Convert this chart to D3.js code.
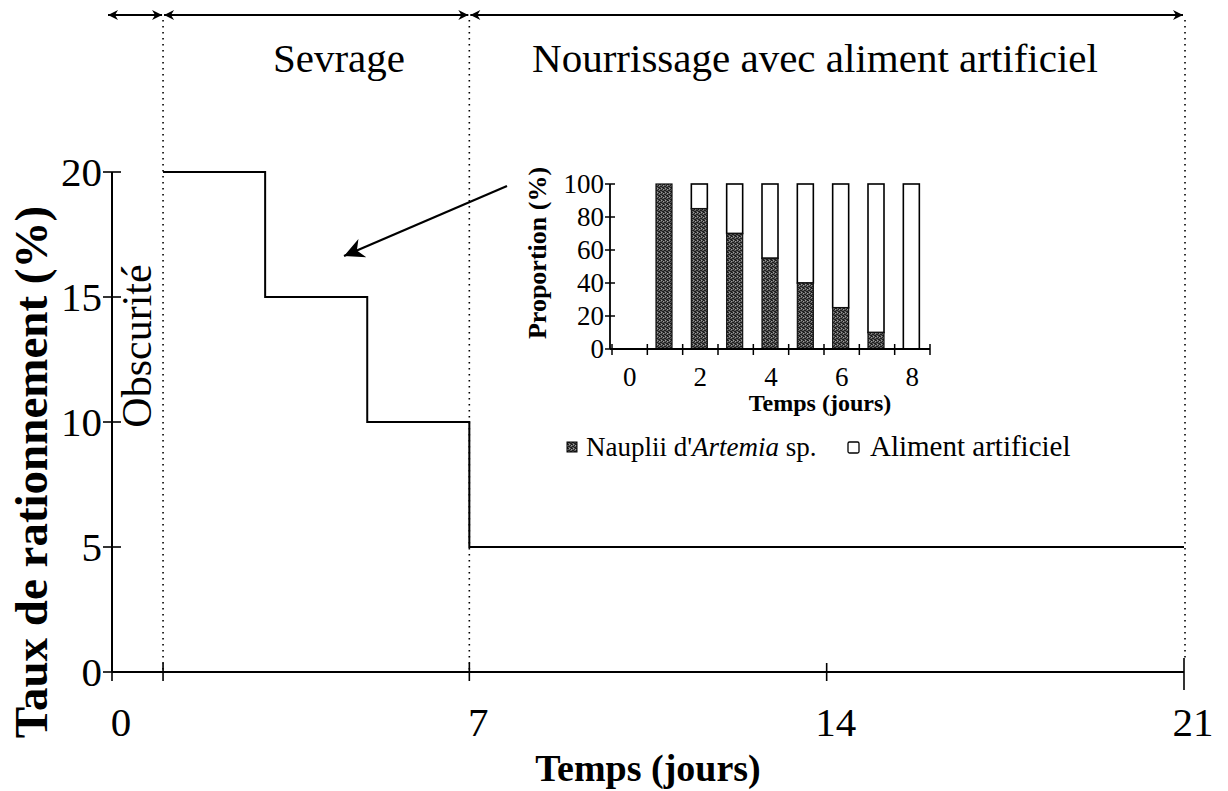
<!DOCTYPE html>
<html>
<head>
<meta charset="utf-8">
<script src="https://cdn.jsdelivr.net/npm/d3@7"></script>
<style>
  html, body { margin: 0; padding: 0; background: #fff; }
  svg { display: block; font-family: "Liberation Serif", "Times New Roman", serif; }
</style>
</head>
<body>
<svg id="chart" width="1228" height="791"></svg>
<script>
// ---- Data ----
// Main chart: feeding rate (%) step function over time (days)
const stepDays  = [1, 3, 5, 7, 21];
const stepRates = [20, 15, 10, 5, 5];
const mainXTicks = [0, 7, 14, 21];
const mainXMinorTicks = [1];
const mainYTicks = [0, 5, 10, 15, 20];
// Periods (top arrows)
const periodStarts = [0, 1, 7];
const periodEnds   = [1, 7, 21];
const periodLabels = ["Obscurité", "Sevrage", "Nourrissage avec aliment artificiel"];
const dividerDays  = [1, 7, 21];

// Inset: proportion of food types per day of weaning
const insetDays     = [0, 1, 2, 3, 4, 5, 6, 7, 8];
const insetNauplii  = [null, 100, 85, 70, 55, 40, 25, 10, 0];
const insetArtif    = [null, 0, 15, 30, 45, 60, 75, 90, 100];
const insetXLabels  = [0, 2, 4, 6, 8];
const insetYTicks   = [0, 20, 40, 60, 80, 100];

// ---- Setup ----
const svg = d3.select("#chart");
const defs = svg.append("defs");

// stipple pattern for nauplii bars
const pat = defs.append("pattern").attr("id", "stipple")
  .attr("patternUnits", "userSpaceOnUse").attr("width", 4).attr("height", 4);
pat.append("rect").attr("width", 4).attr("height", 4).attr("fill", "#5c5c5c");
[[0,0],[2,1],[1,2],[3,3],[2,3],[0,2],[3,0]].forEach(([a,b]) =>
  pat.append("rect").attr("x", a).attr("y", b).attr("width", 1).attr("height", 1).attr("fill", "#1e1e1e"));
[[1,0],[3,1]].forEach(([a,b]) =>
  pat.append("rect").attr("x", a).attr("y", b).attr("width", 1).attr("height", 1).attr("fill", "#9a9a9a"));

// arrow markers
function marker(id, orient) {
  defs.append("marker").attr("id", id)
    .attr("viewBox", "0 0 10 10").attr("refX", 10).attr("refY", 5)
    .attr("markerWidth", 15).attr("markerHeight", 10).attr("markerUnits", "userSpaceOnUse")
    .attr("orient", orient)
    .append("path").attr("d", "M0,0 L10,5 L0,10 L3,5 Z").attr("fill", "#000");
}
marker("arrEnd", "auto");
marker("arrStart", "auto-start-reverse");
defs.append("marker").attr("id", "bigArrow")
  .attr("viewBox", "0 0 10 10").attr("refX", 10).attr("refY", 5)
  .attr("markerWidth", 30).attr("markerHeight", 20).attr("markerUnits", "userSpaceOnUse")
  .attr("orient", "auto")
  .append("path").attr("d", "M0,0 L10,5 L0,10 L3,5 Z").attr("fill", "#000");

// ---- Main scales ----
const x = d3.scaleLinear().domain([0, 21]).range([112, 1184]);
const y = d3.scaleLinear().domain([0, 20]).range([672, 172]);

// dotted dividers
svg.append("g").selectAll("line").data(dividerDays).join("line")
  .attr("x1", d => x(d) + (d === 21 ? 1 : 0)).attr("x2", d => x(d) + (d === 21 ? 1 : 0))
  .attr("y1", 20).attr("y2", d => d === 21 ? 662 : 672)
  .attr("stroke", "#000").attr("stroke-width", 1.6)
  .attr("stroke-dasharray", "1.6,4.4");

// top period arrows
const periods = periodStarts.map((s, i) => ({ s, e: periodEnds[i], label: periodLabels[i] }));
svg.append("g").selectAll("line").data(periods).join("line")
  .attr("x1", d => x(d.s) + (d.s === 0 ? -4 : 1)).attr("x2", d => x(d.e) - 1)
  .attr("y1", 15).attr("y2", 15)
  .attr("stroke", "#000").attr("stroke-width", 2.2)
  .attr("marker-start", "url(#arrStart)").attr("marker-end", "url(#arrEnd)");

// period labels
svg.append("text").attr("x", 339).attr("y", 72)
  .attr("text-anchor", "middle").attr("font-size", 41).text(periodLabels[1]);
svg.append("text").attr("x", 815).attr("y", 72)
  .attr("text-anchor", "middle").attr("font-size", 41).text(periodLabels[2]);
svg.append("text").attr("transform", `translate(${x(0.5) + 13},346) rotate(-90)`)
  .attr("text-anchor", "middle").attr("font-size", 42).text(periodLabels[0]);

// axes
const gy = svg.append("g");
gy.append("line").attr("x1", x(0)).attr("x2", x(0)).attr("y1", y(20)).attr("y2", y(0))
  .attr("stroke", "#000").attr("stroke-width", 2);
gy.selectAll(".tk").data(mainYTicks).join("line")
  .attr("x1", x(0) - 9).attr("x2", x(0) + 9)
  .attr("y1", d => y(d)).attr("y2", d => y(d))
  .attr("stroke", "#000").attr("stroke-width", 1.6);
gy.selectAll("text").data(mainYTicks).join("text")
  .attr("x", x(0) - 10).attr("y", d => y(d)).attr("dy", "0.35em")
  .attr("text-anchor", "end").attr("font-size", 41).text(d => d);

const gx = svg.append("g");
gx.append("line").attr("x1", x(0)).attr("x2", x(21)).attr("y1", y(0)).attr("y2", y(0))
  .attr("stroke", "#000").attr("stroke-width", 2.2);
gx.selectAll(".tk").data(mainXTicks.concat(mainXMinorTicks)).join("line")
  .attr("x1", d => x(d)).attr("x2", d => x(d))
  .attr("y1", d => d === 21 ? y(0) - 14 : y(0) - 9).attr("y2", d => d === 21 ? y(0) + 18 : y(0) + 9)
  .attr("stroke", "#000").attr("stroke-width", 1.6);
gx.selectAll("text").data(mainXTicks).join("text")
  .attr("x", d => x(d) + 9).attr("y", 736)
  .attr("text-anchor", "middle").attr("font-size", 41).text(d => d);

// axis titles
svg.append("text").attr("x", 648).attr("y", 781)
  .attr("text-anchor", "middle").attr("font-size", 38).attr("font-weight", "bold")
  .text("Temps (jours)");
svg.append("text").attr("transform", "translate(47,472) rotate(-90)")
  .attr("text-anchor", "middle").attr("font-size", 47).attr("font-weight", "bold")
  .text("Taux de rationnement (%)");

// step line
const stepData = stepDays.map((d, i) => ({ d, r: stepRates[i] }));
svg.append("path").datum(stepData)
  .attr("d", d3.line().x(p => x(p.d)).y(p => y(p.r)).curve(d3.curveStepAfter))
  .attr("fill", "none").attr("stroke", "#000").attr("stroke-width", 2);

// pointer arrow from inset to weaning phase
svg.append("line").attr("x1", 507).attr("y1", 186).attr("x2", 344).attr("y2", 256)
  .attr("stroke", "#000").attr("stroke-width", 2.2).attr("marker-end", "url(#bigArrow)");

// ---- Inset ----
const ix = d3.scaleBand().domain(insetDays).range([612, 930]).padding(0);
const iy = d3.scaleLinear().domain([0, 100]).range([349, 184]);
const inset = svg.append("g");
const barW = 16;
const bars = insetDays.map((d, i) => ({ d, n: insetNauplii[i], a: insetArtif[i] })).filter(b => b.n !== null);

inset.selectAll(".art").data(bars).join("rect")
  .attr("x", b => ix(b.d) + ix.bandwidth() / 2 - barW / 2 - 1).attr("width", barW)
  .attr("y", b => iy(b.n + b.a)).attr("height", b => iy(b.n) - iy(b.n + b.a))
  .attr("fill", "#fff").attr("stroke", "#000").attr("stroke-width", 1.6);
inset.selectAll(".nau").data(bars.filter(b => b.n > 0)).join("rect")
  .attr("x", b => ix(b.d) + ix.bandwidth() / 2 - barW / 2 - 1).attr("width", barW)
  .attr("y", b => iy(b.n)).attr("height", b => iy(0) - iy(b.n))
  .attr("fill", "url(#stipple)").attr("stroke", "#111").attr("stroke-width", 1.2);

// inset axes
inset.append("line").attr("x1", 610).attr("x2", 610).attr("y1", iy(100)).attr("y2", iy(0))
  .attr("stroke", "#000").attr("stroke-width", 1.8);
inset.selectAll(".ytk").data(insetYTicks).join("line")
  .attr("x1", 605).attr("x2", 615).attr("y1", d => iy(d)).attr("y2", d => iy(d))
  .attr("stroke", "#000").attr("stroke-width", 1.5);
inset.selectAll(".ylb").data(insetYTicks).join("text")
  .attr("x", 604).attr("y", d => iy(d)).attr("dy", "0.35em")
  .attr("text-anchor", "end").attr("font-size", 27).text(d => d);
inset.append("line").attr("x1", 610).attr("x2", 930).attr("y1", iy(0)).attr("y2", iy(0))
  .attr("stroke", "#000").attr("stroke-width", 1.8);
const bounds = insetDays.map(d => ix(d)).concat([ix(8) + ix.bandwidth()]);
inset.selectAll(".xtk").data(bounds).join("line")
  .attr("x1", d => d).attr("x2", d => d).attr("y1", iy(0) - 5).attr("y2", iy(0) + 6)
  .attr("stroke", "#000").attr("stroke-width", 1.5);
inset.selectAll(".xlb").data(insetXLabels).join("text")
  .attr("x", d => ix(d) + ix.bandwidth() / 2).attr("y", 386)
  .attr("text-anchor", "middle").attr("font-size", 27).text(d => d);
inset.append("text").attr("x", 820).attr("y", 411)
  .attr("text-anchor", "middle").attr("font-size", 24).attr("font-weight", "bold")
  .text("Temps (jours)");
inset.append("text").attr("transform", "translate(546,253) rotate(-90)")
  .attr("text-anchor", "middle").attr("font-size", 26).attr("font-weight", "bold")
  .text("Proportion (%)");

// inset legend
const leg = svg.append("g");
leg.append("rect").attr("x", 567).attr("y", 442).attr("width", 10).attr("height", 10)
  .attr("fill", "url(#stipple)").attr("stroke", "#000").attr("stroke-width", 1);
const t1 = leg.append("text").attr("x", 586).attr("y", 456).attr("font-size", 27);
t1.append("tspan").text("Nauplii d'");
t1.append("tspan").attr("font-style", "italic").text("Artemia");
t1.append("tspan").text(" sp.");
leg.append("rect").attr("x", 848).attr("y", 442).attr("width", 11).attr("height", 11).attr("rx", 1.5)
  .attr("fill", "#fff").attr("stroke", "#000").attr("stroke-width", 1.3);
leg.append("text").attr("x", 870).attr("y", 456).attr("font-size", 29).text("Aliment artificiel");
</script>
</body>
</html>
